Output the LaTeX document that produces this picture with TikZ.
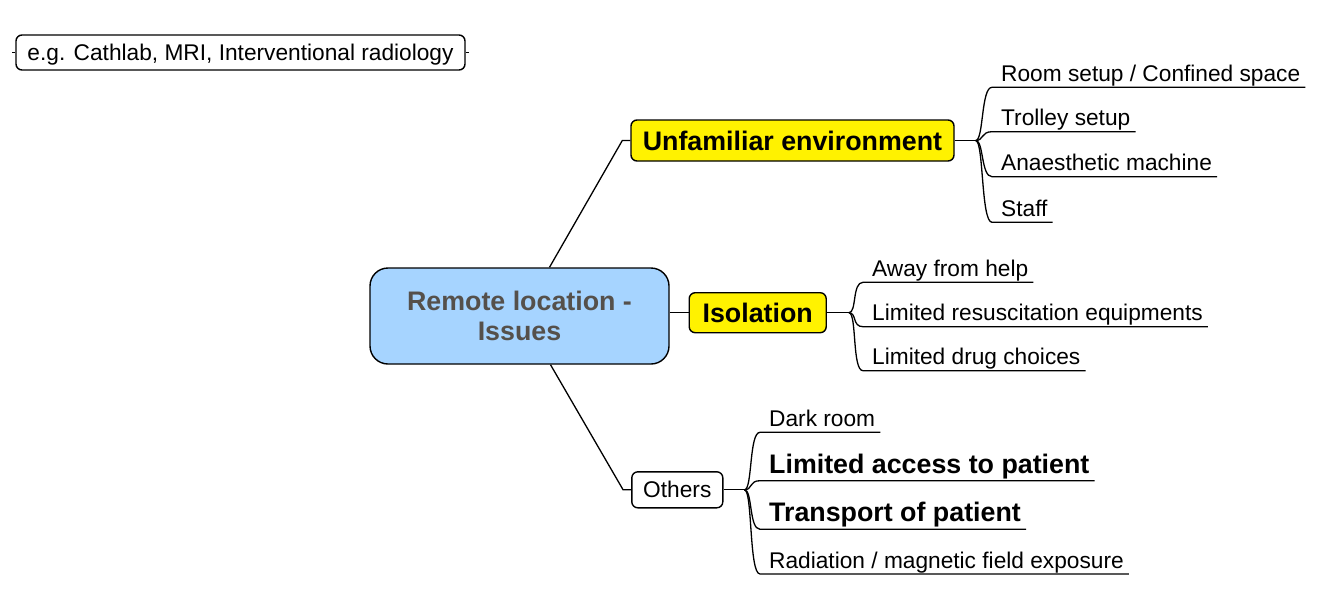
\documentclass[tikz,border=0pt]{standalone}
\usepackage{fontspec}
\setmainfont{Liberation Sans}
\definecolor{centerblue}{RGB}{166,212,255}
\definecolor{centertext}{RGB}{85,80,75}
\tikzset{
  regfont/.style={font=\fontsize{22.7}{27}\selectfont},
  boldfont/.style={font=\bfseries\fontsize{26.8}{30.7}\selectfont},
  box/.style={draw=black, line width=1.4pt, rounded corners=6pt, inner xsep=4pt, inner ysep=0pt},
  topicbox/.style={box, fill=yellow, boldfont, text height=19.2pt, text depth=0pt},
  plainbox/.style={box, fill=white, regfont, text height=16.3pt, text depth=0pt},
  centerbox/.style={draw=black, line width=1.4pt, rounded corners=18pt, fill=centerblue,
    text=centertext, boldfont, align=center, minimum width=299pt, minimum height=96pt},
  leaf/.style={anchor=south west, inner xsep=5pt, inner ysep=0pt, regfont, text depth=5.6pt},
  boldleaf/.style={anchor=south west, inner xsep=5pt, inner ysep=0pt, boldfont, text depth=7.4pt},
  conn/.style={draw=black, line width=1.3pt},
}
\begin{document}
\begin{tikzpicture}[x=1pt,y=-1pt]
\useasboundingbox (0,0) rectangle (1318,600);

% floating note
\node[plainbox, minimum width=449pt, minimum height=35pt] (eg) at (240.5,52.5) {e.g. Cathlab, MRI, Interventional radiology};
\draw[conn] (eg.west) -- ++(-3,0) coordinate (egl);
\draw[conn] (eg.east) -- ++(3,0) coordinate (egr);

% central topic
\node[centerbox] (center) at (519.5,316) {Remote location -\\Issues};

% main branches
\node[topicbox, minimum width=323pt, minimum height=41pt] (unf) at (792.5,140.5) {Unfamiliar environment};
\node[topicbox, minimum width=137pt, minimum height=40pt] (iso) at (757.7,312.7) {Isolation};
\node[plainbox, minimum width=91pt, minimum height=36pt] (oth) at (677.3,489.8) {Others};

\draw[conn] ([xshift=30pt]center.north) -- ([xshift=-8pt]unf.west) -- (unf.west);
\draw[conn] (iso.west -| center.east) -- (iso.west);
\draw[conn] ([xshift=31pt]center.south) -- ([xshift=-8pt]oth.west) -- (oth.west);

% joins
\draw[conn] (unf.east) -- ++(21,0) coordinate (j1);
\draw[conn] (iso.east) -- ++(22,0) coordinate (j2);
\draw[conn] (oth.east) -- ++(21,0) coordinate (j3);

% Unfamiliar environment children
\node[leaf] (u1) at (996,87.3) {Room setup / Confined space};
\node[leaf] (u2) at (996,131.7) {Trolley setup};
\node[leaf] (u3) at (996,176.7) {Anaesthetic machine};
\node[leaf] (u4) at (996,222.3) {Staff};
\foreach \c in {u1,u2,u3,u4}{
  \draw[conn] (j1) .. controls +(8,0) and +(-11,0) .. ([xshift=-4pt]\c.south west) -- (\c.south east);
}

% Isolation children
\node[leaf] (i1) at (867,282.3) {Away from help};
\node[leaf] (i2) at (867,326.7) {Limited resuscitation equipments};
\node[leaf] (i3) at (867,370.7) {Limited drug choices};
\foreach \c in {i1,i2,i3}{
  \draw[conn] (j2) .. controls +(8,0) and +(-11,0) .. ([xshift=-4pt]\c.south west) -- (\c.south east);
}

% Others children
\node[leaf] (o1) at (764,432.3) {Dark room};
\node[boldleaf] (o2) at (764,480.7) {Limited access to patient};
\node[boldleaf] (o3) at (764,529.3) {Transport of patient};
\node[leaf] (o4) at (764,574) {Radiation / magnetic field exposure};
\foreach \c in {o1,o2,o3,o4}{
  \draw[conn] (j3) .. controls +(8,0) and +(-11,0) .. ([xshift=-4pt]\c.south west) -- (\c.south east);
}
\end{tikzpicture}
\end{document}
